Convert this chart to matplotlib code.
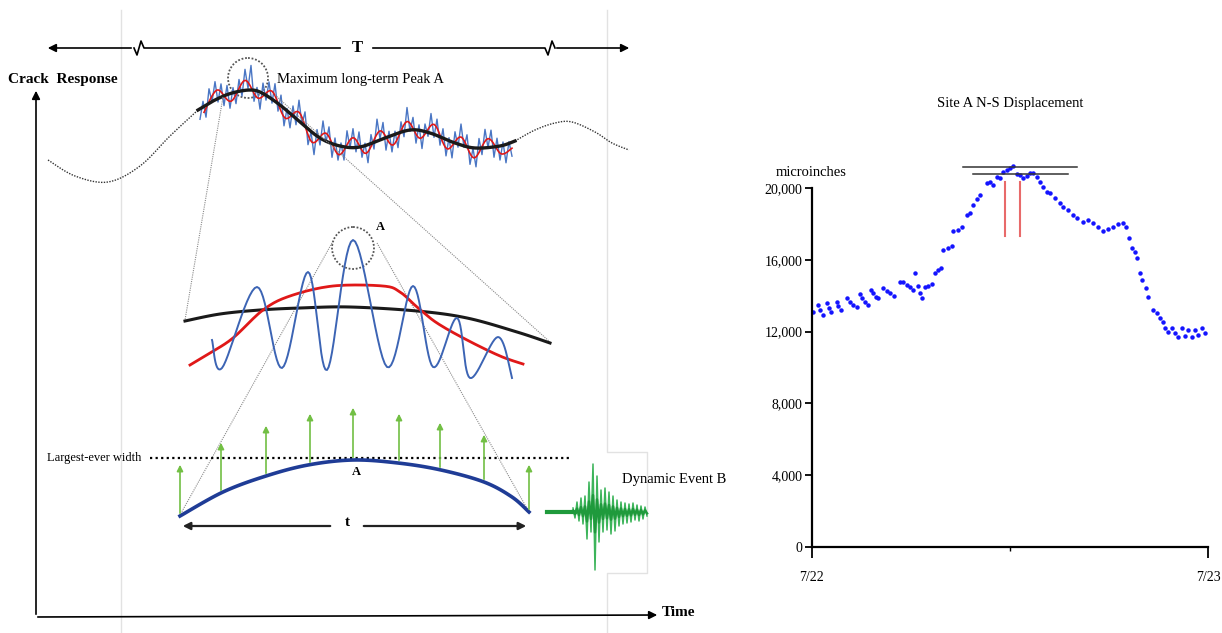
import numpy as np
import matplotlib
matplotlib.use('Agg')
import matplotlib.pyplot as plt
from matplotlib.patches import Circle

SERIF = 'Liberation Serif'

# ---------------- right chart: Site A N-S displacement ----------------
disp_hours = [0.08, 0.38, 0.48, 0.69, 0.89, 1.03, 1.15, 1.49, 1.60, 1.76, 2.10, 2.30, 2.50, 2.71,
              2.91, 3.05, 3.21, 3.37, 3.58, 3.72, 3.86, 4.02, 4.32, 4.52, 4.73, 4.99, 5.33, 5.53,
              5.74, 5.94, 6.14, 6.24, 6.40, 6.55, 6.69, 6.85, 7.05, 7.25, 7.45, 7.65, 7.82, 7.94,
              8.24, 8.48, 8.55, 8.85, 9.09, 9.39, 9.58, 9.76, 10.00, 10.18, 10.60, 10.79, 10.97,
              11.21, 11.39, 11.58, 11.82, 12.00, 12.18, 12.42, 12.61, 12.79, 13.03, 13.21, 13.39,
              13.64, 13.82, 14.00, 14.24, 14.42, 14.73, 15.03, 15.21, 15.52, 15.82, 16.06, 16.42,
              16.73, 17.03, 17.33, 17.64, 17.94, 18.24, 18.55, 18.85, 19.03, 19.21, 19.39, 19.58,
              19.70, 19.88, 20.00, 20.24, 20.36, 20.67, 20.91, 21.09, 21.27, 21.39, 21.58, 21.82,
              22.00, 22.18, 22.42, 22.61, 22.79, 23.03, 23.21, 23.39, 23.64, 23.82]
disp_values = [13100, 13480, 13200, 12920, 13570, 13290, 13070, 13660, 13440, 13200, 13890, 13660,
               13480, 13380, 14070, 13850, 13660, 13480, 14310, 14130, 13940, 13850, 14440, 14260,
               14130, 13960, 14780, 14780, 14590, 14500, 14310, 15240, 14560, 14130, 13890, 14500,
               14560, 14630, 15240, 15430, 15560, 16540, 16650, 16770, 17600, 17660, 17820, 18490,
               18600, 19050, 19380, 19600, 20280, 20330, 20160, 20610, 20550, 20890, 21000, 21110,
               21220, 20780, 20720, 20550, 20660, 20830, 20830, 20610, 20330, 20050, 19770, 19720,
               19440, 19160, 18940, 18770, 18490, 18330, 18100, 18210, 18050, 17820, 17600, 17710,
               17820, 17990, 18050, 17820, 17210, 16650, 16430, 16100, 15260, 14870, 14430, 13930,
               13200, 13030, 12760, 12530, 12200, 11980, 12200, 11920, 11700, 12200, 11750, 12090,
               11700, 12090, 11810, 12200, 11920]
peak_bars = [(9.15, 16.06, 21170), (9.76, 15.50, 20780)]   # (start, end, level)
red_marks = [11.7, 12.6]
red_marks_range = (17320, 20330)
y_ticks = [0, 4000, 8000, 12000, 16000, 20000]
y_tick_labels = ['0', '4,000', '8,000', '12,000', '16,000', '20,000']
x_ticks = [0, 24]
x_tick_labels = ['7/22', '7/23']

# ---------------- left schematic (pixel coordinates) ----------------
longterm_left = [(48, 160), (75, 176), (108, 182), (140, 166), (170, 136), (198, 110)]
longterm_right = [(515, 141), (535, 130), (555, 123), (572, 122), (595, 132), (612, 143), (629, 150)]
medium_top = [(198, 110), (215, 100), (232, 93), (250, 90), (262, 93), (280, 105), (300, 122),
              (320, 138), (340, 146), (360, 147), (385, 138), (410, 130), (430, 133), (455, 143),
              (475, 148), (500, 146), (515, 141)]
red_top_x = [204, 217, 231, 245, 258, 272, 285, 299, 312, 326, 339, 353, 366, 380, 393, 407,
             420, 434, 447, 461, 474, 488, 501, 512]
red_top_off = [6, -9, 8, -10, 7, -8, 9, -9, 10, -8, 9, -10, 8, -9, 10, -9, 8, -10, 9, -8, 10,
               -9, 8, 6]
blue_top_off = [7, -11, 9, -13, 6, -10, 12, -8, 10, -14, 7, -12, 9, -9, 13, -11, 6, -22, 8, -10,
                11, -13, 7, -9, 12, -12, 8, -16, 9, -10,
                11, -8, 13, -12, 7, -14, 10, -9, 12, -11, 8, -13, 9, -10, 14, -12, 6, -11, 10, -14,
                8, -9, 12, -13, 7, -10, 11, -12, 9, -15,
                8, -10, 13, -11, 7, -12, 10, -9, 12, -14, 8, -11, 9, -13, 11, -10, 7, -12, 13, -9,
                10, -14, 8, -11, 12, -10, 9, -13, 7, -12,
                11, -9, 10, -14, 8, -12, 9, -10, 13, -11, 7, -12, 10, -9, 8]

black_mid = [(185, 321), (220, 314), (260, 310), (300, 308), (350, 307), (417, 311), (467, 318),
             (517, 332), (550, 343)]
red_mid = [(190, 365), (210, 353), (233, 338), (263, 310), (290, 296), (333, 286), (383, 286),
           (400, 292), (417, 307), (437, 323), (467, 340), (500, 356), (523, 364)]
blue_mid = [(212, 340), (222, 368), (257, 287), (282, 368), (308, 272), (327, 370), (353, 240),
            (387, 367), (413, 286), (433, 367), (457, 318), (470, 378), (498, 337), (512, 378)]

arc_pts = [(180, 516), (223, 492), (266, 476), (308, 465), (353, 460), (398, 463), (441, 470),
           (484, 482), (512, 497), (529, 512)]
growth_x = [180, 221, 266, 310, 353, 399, 440, 484, 529]
growth_top = [462, 440, 423, 411, 405, 411, 420, 432, 462]
growth_base = [516, 493, 476, 465, 460, 463, 470, 482, 512]

quake_x = [573, 575, 577, 579, 581, 583, 585, 587, 589, 591, 593, 595, 597, 599, 601, 603, 605,
           607, 609, 611, 613, 615, 617, 619, 621, 623, 625, 627, 629, 631, 633, 635, 637, 639,
           641, 643, 645, 647]
quake_off = [-4, 6, -10, 9, -14, 12, -16, 27, -30, 20, -48, 58, -36, 30, -22, 20, -24, 18, -20,
             22, -16, 19, -12, 14, -10, 12, -9, 11, -8, 10, -9, 8, -7, 9, -6, 7, -5, 4]


def smooth(pts, n=10):
    p = np.asarray(pts, float)
    p = np.vstack([p[0], p, p[-1]])
    t = np.linspace(0, 1, n, endpoint=False)[:, None]
    out = []
    for i in range(1, len(p) - 2):
        p0, p1, p2, p3 = p[i - 1], p[i], p[i + 1], p[i + 2]
        out.append(0.5 * (2 * p1 + (-p0 + p2) * t + (2 * p0 - 5 * p1 + 4 * p2 - p3) * t ** 2
                          + (-p0 + 3 * p1 - 3 * p2 + p3) * t ** 3))
    out.append(p[-2][None])
    return np.vstack(out)


fig = plt.figure(figsize=(12.22, 6.33), dpi=100)
ax0 = fig.add_axes([0, 0, 1, 1])
ax0.set_xlim(0, 1222)
ax0.set_ylim(633, 0)
ax0.axis('off')

# faint frame
frame_c = '#e2e2e2'
ax0.plot([121, 121], [10, 633], color=frame_c, lw=1)
ax0.plot([607, 607, 647, 647, 607, 607], [10, 452, 452, 573, 573, 633], color=frame_c, lw=1)

# T arrow with breaks
ax0.annotate('', xy=(45, 48), xytext=(134, 48),
             arrowprops=dict(arrowstyle='-|>', color='black', lw=1.2, mutation_scale=12))
ax0.plot([134, 137, 141, 144, 340], [48, 55, 41, 48, 48], color='black', lw=1.2)
ax0.text(357, 48, 'T', ha='center', va='center', fontsize=12, fontweight='bold', family=SERIF)
ax0.plot([373, 545, 548, 552, 555], [48, 48, 55, 41, 48], color='black', lw=1.2)
ax0.annotate('', xy=(632, 48), xytext=(554, 48),
             arrowprops=dict(arrowstyle='-|>', color='black', lw=1.2, mutation_scale=12))

# axes of schematic
ax0.annotate('', xy=(36, 88), xytext=(36, 617),
             arrowprops=dict(arrowstyle='-|>', color='black', lw=1.2, mutation_scale=12))
ax0.annotate('', xy=(660, 615), xytext=(35, 617),
             arrowprops=dict(arrowstyle='-|>', color='black', lw=1.2, mutation_scale=12))
ax0.text(8, 80, 'Crack  Response', ha='left', va='center', fontsize=11, fontweight='bold',
         family=SERIF)
ax0.text(662, 613, 'Time', ha='left', va='center', fontsize=11, fontweight='bold', family=SERIF)

# long-term dotted curve
for seg in (longterm_left, longterm_right):
    s = smooth(seg)
    ax0.plot(s[:, 0], s[:, 1], color='#333333', lw=1, ls=(0, (1, 1)))

# top signal: blue noise, red, black
blk = smooth(medium_top, 12)
red_base = np.interp(red_top_x, blk[:, 0], blk[:, 1])
red_t = smooth(list(zip(red_top_x, red_base + np.array(red_top_off))), 8)
blue_x = np.arange(200, 513, 3)
blue_y = np.interp(blue_x, red_t[:, 0], red_t[:, 1]) + np.array(blue_top_off)
ax0.plot(blue_x, blue_y, color='#4a76c4', lw=1.0)
ax0.plot(red_t[:, 0], red_t[:, 1], color='#e01818', lw=1.2)
ax0.plot(blk[:, 0], blk[:, 1], color='#1a1a1a', lw=2.4)

# zoom lines
zoom_c = '#8a8a8a'
ax0.plot([223, 185], [97, 320], color=zoom_c, lw=0.8, ls=(0, (1, 1)))
ax0.plot([275, 550], [95, 342], color=zoom_c, lw=0.8, ls=(0, (1, 1)))
ax0.plot([332, 180], [243, 515], color=zoom_c, lw=0.8, ls=(0, (1, 1)))
ax0.plot([377, 529], [243, 512], color=zoom_c, lw=0.8, ls=(0, (1, 1)))

ax0.add_patch(Circle((248, 78), 20, fill=False, ec='#555555', lw=1.3, ls=(0, (1, 1))))
ax0.text(277, 80, 'Maximum long-term Peak A', ha='left', va='center', fontsize=10.5,
         family=SERIF)

# middle panel
for pts, c, lw, n in ((black_mid, '#1a1a1a', 2.2, 12), (red_mid, '#e01818', 2.0, 12),
                      (blue_mid, '#3c64b4', 1.4, 14)):
    s = smooth(pts, n)
    ax0.plot(s[:, 0], s[:, 1], color=c, lw=lw)
ax0.add_patch(Circle((353, 248), 21, fill=False, ec='#555555', lw=1.3, ls=(0, (1, 1))))
ax0.text(380, 227, 'A', ha='center', va='center', fontsize=9, fontweight='bold', family=SERIF)

# bottom panel
ax0.plot([150, 572], [458, 458], color='black', lw=1.6, ls=(0, (1, 1.5)))
ax0.text(47, 458, 'Largest-ever width', ha='left', va='center', fontsize=9, family=SERIF)
for gx, gt, gb in zip(growth_x, growth_top, growth_base):
    ax0.annotate('', xy=(gx, gt), xytext=(gx, gb),
                 arrowprops=dict(arrowstyle='-|>', color='#72bf44', lw=1.2, mutation_scale=9))
arc = smooth(arc_pts, 12)
ax0.plot(arc[:, 0], arc[:, 1], color='#1f3c96', lw=2.6)
ax0.text(356, 472, 'A', ha='center', va='center', fontsize=9, fontweight='bold', family=SERIF)

ax0.annotate('', xy=(180, 526), xytext=(333, 526),
             arrowprops=dict(arrowstyle='-|>', color='#222222', lw=1.6, mutation_scale=11))
ax0.annotate('', xy=(529, 526), xytext=(361, 526),
             arrowprops=dict(arrowstyle='-|>', color='#222222', lw=1.6, mutation_scale=11))
ax0.text(347, 522, 't', ha='center', va='center', fontsize=11, fontweight='bold', family=SERIF)

# dynamic event
ax0.plot([547, 575], [512, 512], color='#1f9a3c', lw=3)
qx = np.array(quake_x)
qoff = np.array(quake_off)
ax0.plot(qx, 512 + qoff, color='#3cb45a', lw=1.1)
ax0.plot(qx, 512 + 0.35 * qoff, color='#1f9a3c', lw=1.8)
ax0.text(622, 480, 'Dynamic Event B', ha='left', va='center', fontsize=10.5, family=SERIF)

# ---------------- right chart ----------------
x0, x1, y0, y1 = 812, 1208, 547, 188
ax = fig.add_axes([x0 / 1222, (633 - y0) / 633, (x1 - x0) / 1222, (y0 - y1) / 633])
ax.set_facecolor('none')
ax.set_xlim(0, 24)
ax.set_ylim(0, 20000)
ax.plot(disp_hours, disp_values, ls='none', marker='o', ms=2.2, color='#1414ff', clip_on=False)
for xs, xe, lev in peak_bars:
    ax.plot([xs, xe], [lev, lev], color='#333333', lw=1.1, clip_on=False)
for rx in red_marks:
    ax.plot([rx, rx], red_marks_range, color='#e86a6a', lw=1.5, clip_on=False)
for side in ('top', 'right'):
    ax.spines[side].set_visible(False)
for side in ('left', 'bottom'):
    ax.spines[side].set_linewidth(1.6)
ax.set_yticks(y_ticks)
ax.set_yticklabels(y_tick_labels, family=SERIF, fontsize=10)
ax.set_xticks(x_ticks)
ax.set_xticklabels(x_tick_labels, family=SERIF, fontsize=10)
ax.set_xticks([12], minor=True)
ax.tick_params(axis='y', length=5, width=1.3, pad=2)
ax.tick_params(axis='x', which='major', length=8, width=1.3, pad=9)
ax.tick_params(axis='x', which='minor', length=3, width=1.0)
fig.text(1010 / 1222, 1 - 103 / 633, 'Site A N-S Displacement', ha='center', va='center',
         fontsize=10.5, family=SERIF)
fig.text(811 / 1222, 1 - 172 / 633, 'microinches', ha='center', va='center', fontsize=10.5,
         family=SERIF)

fig.savefig('out.png', dpi=100)
